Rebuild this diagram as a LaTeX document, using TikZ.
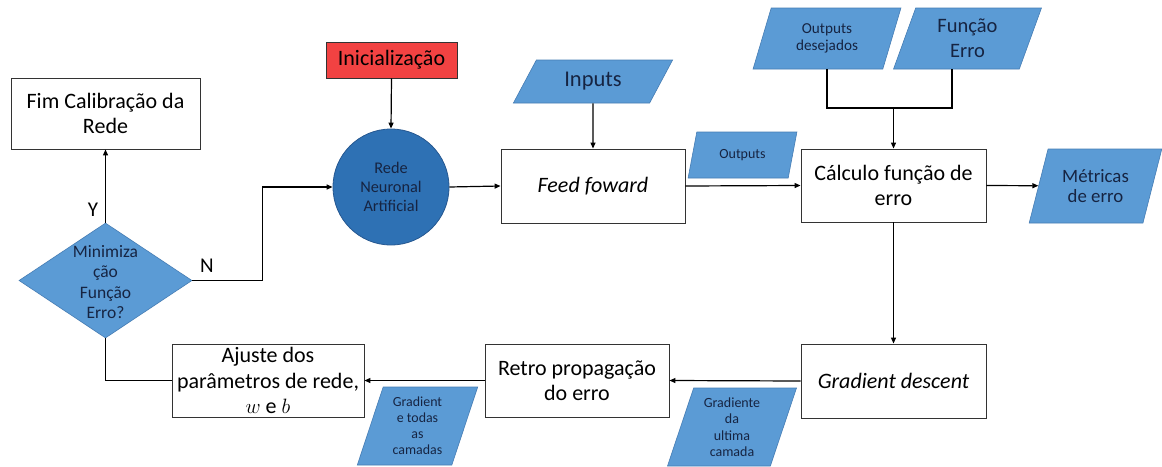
\documentclass[tikz,border=0pt]{standalone}
\usepackage{fontspec}
\setmainfont{Carlito}
\usetikzlibrary{shapes.geometric,arrows.meta,calc}

\definecolor{datablue}{RGB}{91,155,213}
\definecolor{dataedge}{RGB}{70,125,180}
\definecolor{netblue}{RGB}{46,113,180}
\definecolor{netedge}{RGB}{38,88,145}
\definecolor{initred}{RGB}{242,66,66}
\definecolor{navytext}{RGB}{22,36,66}

\newcommand{\fsz}[2]{\fontsize{#1}{#2}\selectfont}

\tikzset{
  procbox/.style={draw=black!80, line width=0.9pt, fill=white, align=center,
    inner sep=2pt, font=\fsz{22}{25.5}},
  datain/.style={trapezium, trapezium left angle=72, trapezium right angle=108,
    trapezium stretches=true, fill=datablue, draw=dataedge, line width=0.6pt,
    inner sep=1pt, text=navytext, align=center},
  flow/.style={line width=1.2pt, -{Triangle[length=6pt,width=5pt]}},
  link/.style={line width=1.2pt},
  answer/.style={font=\fsz{21}{24}, inner sep=0pt}
}

\begin{document}
\begin{tikzpicture}[x=1pt,y=-1pt]
  \useasboundingbox[fill=white] (0,0) rectangle (1162,466);

  % process boxes
  \node[procbox, minimum width=189, minimum height=71] (fim) at (105.5,113.5)
    {Fim Calibração da\\Rede};
  \node[procbox, fill=initred, minimum width=131, minimum height=36] (ini) at (391.5,60)
    {Inicialização};
  \node[procbox, minimum width=184, minimum height=74] (feed) at (593,186)
    {\itshape Feed foward};
  \node[procbox, minimum width=185, minimum height=73] (calc) at (893.5,185.5)
    {Cálculo função de\\erro};
  \node[procbox, minimum width=185, minimum height=74] (gd) at (893.5,381)
    {\itshape Gradient descent};
  \node[procbox, minimum width=184, minimum height=73] (retro) at (577,380.5)
    {Retro propagação\\do erro};
  \node[procbox, minimum width=192, minimum height=73] (ajuste) at (268,380.5)
    {Ajuste dos\\parâmetros de rede,\\$w$ e $b$};

  % neural network
  \node[circle, fill=netblue, draw=netedge, line width=0.8pt, minimum size=116,
    inner sep=0pt, align=center, text=navytext, font=\fsz{16.3}{19}] (rna) at (391,187)
    {Rede\\Neuronal\\Artificial};

  % decision
  \node[diamond, fill=datablue, draw=dataedge, line width=0.6pt, minimum width=173,
    minimum height=115, inner sep=0pt] (dec) at (105.5,280.5) {};
  \node[align=center, text=navytext, font=\fsz{17.5}{20.3}, inner sep=0pt] (dectext)
    at (105.5,282) {Minimiza\\ção\\Função\\Erro?};

  % data shapes
  \node[datain, trapezium left angle=59, trapezium right angle=121,
    minimum width=160, minimum height=43, font=\fsz{22.5}{25}] (inputs) at (593,81.5)
    {Inputs};
  \node[datain, trapezium left angle=71, trapezium right angle=109,
    minimum width=109, minimum height=46, font=\fsz{14}{16}] (outs) at (742.5,155)
    {Outputs};
  \node[datain, minimum width=148, minimum height=61, font=\fsz{15.2}{17.5}] (od) at (827,38.5)
    {Outputs\\desejados};
  \node[datain, minimum width=149, minimum height=61, font=\fsz{20.5}{25}] (fe) at (967.5,38.5)
    {Função\\Erro};
  \node[datain, trapezium left angle=69, trapezium right angle=111,
    minimum width=133, minimum height=74, font=\fsz{18.8}{20.5}] (met) at (1095.5,186)
    {Métricas\\de erro};
  \node[datain, minimum width=121, minimum height=78, font=\fsz{13.9}{16}] (gt) at (417.5,426)
    {Gradient\\e todas\\as\\camadas};
  \node[datain, minimum width=130, minimum height=78, font=\fsz{14}{16.5}] (gu) at (732,427)
    {Gradiente\\da\\ultima\\camada};

  % connectors
  \draw[flow] (ini.south) -- (rna.north);
  \draw[flow] (rna.east) -- (feed.west);
  \draw[flow] (inputs.south) -- (feed.north);
  \draw[flow] (feed.east) -- (calc.west);
  \draw[flow] (calc.east) -- (met);
  \draw[flow] (calc.south) -- (gd.north);
  \draw[flow] (gd.west) -- (retro.east);
  \draw[flow] (retro.west) -- (ajuste.east);
  \draw[flow] (dec.north) -- (fim.south);
  \node[answer] (yes) at (93,210) {Y};
  \draw[flow] (dec.east) -- ++(70,0) coordinate (nbend) |- (rna.west);
  \node[answer] (no) at (207,266) {N};
  \draw[link] (dec.south) |- (ajuste.west);

  % merge of the two reference inputs
  \coordinate (join) at (calc.north |- 0,108);
  \coordinate (fedrop) at ($(fe.south)+(-15.5,0)$);
  \draw[link] (od.south) |- (join) -| (fedrop);
  \draw[flow] (join) -- (calc.north);
\end{tikzpicture}
\end{document}
